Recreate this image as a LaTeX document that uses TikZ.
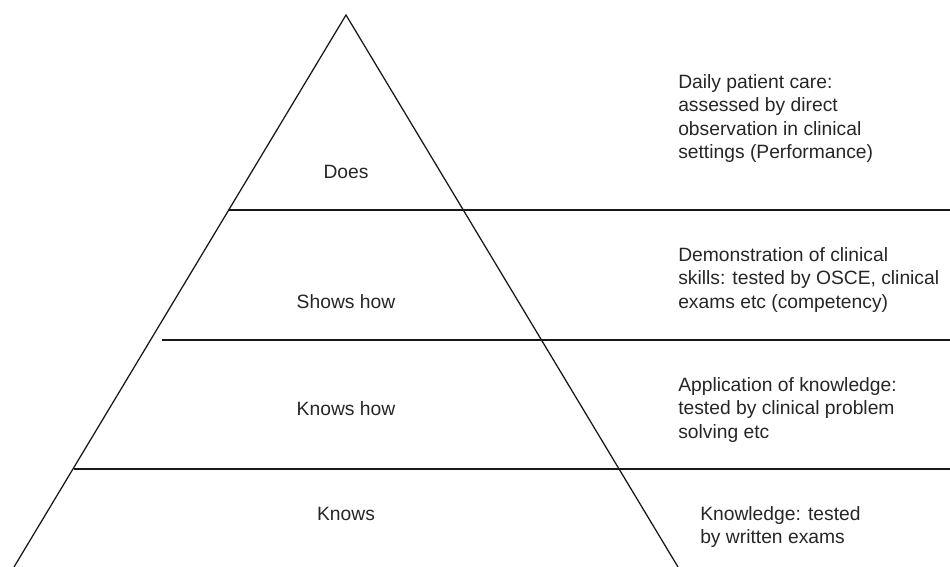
\documentclass[tikz,border=0pt]{standalone}
\usepackage{fontspec}
\setmainfont{Liberation Sans}
\usepackage{xcolor}
\usepackage{tikz}

\begin{document}
\begin{tikzpicture}[x=0.025cm, y=-0.025cm,
    level/.style={font=\fontsize{13.7}{16.7}\selectfont, inner sep=0pt, text=black!85},
    note/.style={level, align=left, anchor=north west},
    rule/.style={line width=0.9pt, black!90}]
            \useasboundingbox (0,0) rectangle (950,567);

            % Pyramid
            \coordinate (apex) at (346,15);
            \coordinate (baseL) at (14,567);
            \coordinate (baseR) at (678,567);
            \draw[rule] (baseL) -- (apex) -- (baseR);

            % Level boundaries
            \draw[rule] (228,210) -- (950,210);
            \draw[rule] (162,340) -- (950,340);
            \draw[rule] (74,469) -- (950,469);

            % Levels
            \node[level] (does) at (346,172) {Does};
            \node[level] (showshow) at (346,302) {Shows how};
            \node[level] (knowshow) at (346,409) {Knows how};
            \node[level] (knows) at (346,514) {Knows};

            % Assessment
            \node[note] (performance) at (678,74) {Daily patient care:\\assessed by direct\\observation in clinical\\settings (Performance)};
            \node[note] (competency) at (678,247) {Demonstration of clinical\\skills: tested by OSCE, clinical\\exams etc (competency)};
            \node[note] (application) at (678,377) {Application of knowledge:\\tested by clinical problem\\solving etc};
            \node[note] (knowledge) at (700,506) {Knowledge: tested\\by written exams};
        \end{tikzpicture}
\end{document}
